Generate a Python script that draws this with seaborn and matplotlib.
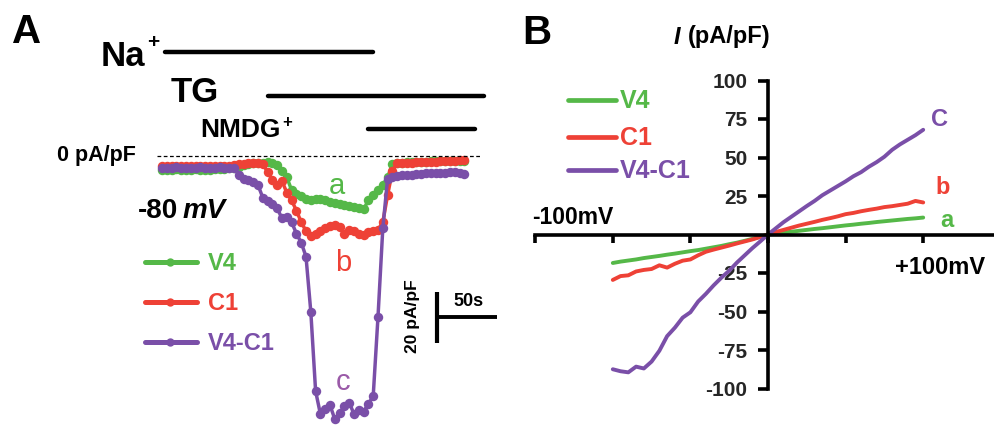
import numpy as np
import pandas as pd
import matplotlib
matplotlib.use("Agg")
import matplotlib.pyplot as plt
from matplotlib.lines import Line2D
import seaborn as sns

sns.set_theme(style="white")
plt.rcParams['font.family'] = ['Liberation Sans', 'DejaVu Sans']

# ---------------- data: panel A (time course at -80 mV) ----------------
time_s = list(range(0, 256, 4))  # seconds
v4_time = [-5.5, -5.6, -5.5, -5.4, -5.6, -5.5, -5.5, -5.4, -5.5, -5.6, -5.5, -5.4, -5.3, -5.2, -5.0,
           -4.8, -4.5, -3.8, -3.2, -3.0, -2.9, -2.8, -2.7, -3.0, -3.6,
           -6.0, -8.5, -13.5, -15.0, -16.0, -17.0, -17.5,
           -17.0, -16.8, -17.5, -18.0, -18.5, -19.0, -19.2, -19.6, -20.2, -20.5, -21.0,
           -17.5, -15.5, -13.5, -11.5, -8.5, -3.5,
           -2.8, -2.8, -2.6, -2.7, -2.5, -2.4, -2.4, -2.3, -2.3, -2.2, -2.2, -2.1, -2.1, -2.0, -2.0]
c1_time = [-4.0, -4.1, -4.0, -4.2, -4.1, -4.0, -4.1, -4.2, -4.0, -4.1, -4.0, -4.1, -4.2, -4.0, -4.0, -3.8,
           -3.5, -3.3, -3.0, -2.8, -3.0, -3.2, -6.5, -9.5, -11.5, -10.0,
           -14.5, -17.5, -21.5, -26.0, -29.5, -31.5, -30.5, -29.5, -28.5, -27.5,
           -27.0, -28.0, -30.5, -29.0, -29.5, -30.5, -31.0, -30.0, -29.5, -29.0,
           -26.0, -15.5, -6.0, -3.0, -2.9, -2.8, -2.9, -2.7, -2.6, -2.5,
           -2.6, -2.4, -2.3, -2.2, -2.1, -2.0, -1.9, -1.9]
v4c1_time = [-4.7, -4.8, -4.7, -4.6, -4.7, -4.8, -4.7, -4.7, -4.6, -4.7, -4.8, -4.7, -4.6, -4.7, -4.8,
             -5.0, -7.5, -9.0, -9.6, -10.2, -11.5, -16.5, -17.8, -19.0, -20.7,
             -24.5, -24.0, -26.0, -30.5, -34.0, -39.5, -61.0, -92.0, -101.0, -99.0,
             -97.5, -103.0, -100.5, -98.0, -96.5, -101.0, -99.5, -100.0, -97.0, -94.0,
             -63.0, -28.5, -9.0, -8.3, -8.0, -7.8, -7.6, -7.5, -7.3, -7.2,
             -7.0, -7.0, -6.8, -6.8, -6.7, -6.6, -6.6, -6.7, -7.2]

# solution application periods (s)
na_period = [2.5, 175.8]
tg_period = [88.3, 268.3]
nmdg_period = [171.7, 260.8]

# ---------------- data: panel B (I-V ramps) ----------------
voltage_mv = list(range(-100, 101, 5))
v4_iv = [-18.5, -17.6, -16.9, -16.2, -15.3, -14.6, -13.9, -13.1, -12.4, -11.6, -10.8, -10.1, -9.2, -8.3,
         -7.4, -6.3, -5.3, -4.1, -2.8, -1.5, 0.0, 0.6, 1.2, 1.8, 2.4, 3.0, 3.6, 4.1, 4.7, 5.3, 5.9,
         6.4, 7.0, 7.5, 8.1, 8.6, 9.1, 9.6, 10.1, 10.5, 11.0]
c1_iv = [-29.5, -27.0, -26.5, -24.0, -23.0, -22.4, -20.0, -21.5, -19.0, -17.0, -16.2, -13.5, -11.2, -9.8,
         -8.5, -7.2, -5.8, -4.5, -3.2, -1.6, 0.0, 1.6, 3.0, 4.4, 5.8, 7.0, 8.2, 9.5, 10.6, 11.8, 13.2,
         14.0, 15.1, 16.0, 16.8, 17.8, 18.4, 19.2, 20.0, 21.8, 20.8]
v4c1_iv = [-87.5, -88.8, -89.5, -85.8, -87.0, -82.5, -75.5, -66.0, -60.5, -54.0, -50.5, -43.5, -38.5, -33.0,
           -28.0, -23.5, -18.2, -13.5, -8.8, -4.5, 0.0, 4.0, 8.0, 11.5, 15.0, 18.5, 21.8, 25.5, 28.5, 31.5,
           34.5, 37.8, 40.5, 44.0, 47.0, 50.5, 55.0, 58.5, 61.5, 64.5, 68.0]
iv_yticks = [-100, -75, -50, -25, 25, 50, 75, 100]

labels = ["V4", "C1", "V4-C1"]
colors = {"V4": "#55b848", "C1": "#ee4136", "V4-C1": "#7a4fa8"}

W, H = 994, 425
fig = plt.figure(figsize=(W / 100, H / 100), dpi=100)
fig.patch.set_facecolor("white")


def P(x, y):
    return (x / W, 1 - y / H)


def ftext(x, y, s, size, color="black", weight="bold", style="normal", ha="center", va="center", rot=0):
    fx, fy = P(x, y)
    fig.text(fx, fy, s, fontsize=size, color=color, fontweight=weight, fontstyle=style,
             ha=ha, va=va, rotation=rot)


# ================= Panel A =================
axA = fig.add_axes([140 / W, 0, 360 / W, 1])
axA.set_xlim((140 - 162) / 1.2, (500 - 162) / 1.2)
axA.set_ylim(-(425 - 155.5) / 2.56, 155.5 / 2.56)
axA.axis("off")

dfA = pd.DataFrame({"t": time_s * 3,
                    "I": v4_time + c1_time + v4c1_time,
                    "cell": ["V4"] * len(time_s) + ["C1"] * len(time_s) + ["V4-C1"] * len(time_s)})
for lab in labels:
    sub = dfA[dfA.cell == lab]
    n0 = len(axA.lines)
    sns.lineplot(data=sub, x="t", y="I", ax=axA, color=colors[lab], linewidth=2.5,
                 marker="o", legend=False)
    for ln in axA.lines[n0:]:
        ln.set_markersize(6.8)
        ln.set_markeredgewidth(0)
        ln.set_markerfacecolor(colors[lab])
axA.set_xlabel("")
axA.set_ylabel("")

# zero line
axA.plot([-4.2, 266.7], [0, 0], ls=(0, (3, 2)), color="black", lw=0.9)
# solution bars
axA.plot(na_period, [40.4, 40.4], color="black", lw=3.2, solid_capstyle="round")
axA.plot(tg_period, [23.2, 23.2], color="black", lw=3.2, solid_capstyle="round")
axA.plot(nmdg_period, [10.4, 10.4], color="black", lw=3.2, solid_capstyle="round")
# scale bar (20 pA/pF, 50 s)
axA.plot([229.2, 229.2], [-53.2, -73.2], color="black", lw=3.0, solid_capstyle="butt")
axA.plot([229.2, 279.2], [-63.0, -63.0], color="black", lw=2.8, solid_capstyle="butt")

ftext(27, 32, "A", 29)
ftext(123, 56, "Na", 25)
ftext(153, 43, "+", 15)
ftext(195, 93, "TG", 25)
ftext(240, 130, "NMDG", 19)
ftext(287, 123, "+", 12)
ftext(96, 156, "0 pA/pF", 15.5)
ftext(178, 211, "-80", 20, ha="right")
ftext(183, 211, "mV", 20, style="italic", ha="left")
ftext(412, 316, "20 pA/pF", 12.5, rot=90)
ftext(469, 301, "50s", 13)
ftext(337, 186, "a", 21, color=colors["V4"], weight="normal")
ftext(343, 263, "b", 21, color=colors["C1"], weight="normal")
ftext(343, 382, "c", 21, color="#9a5aa8", weight="normal")

for lab, y in zip(labels, [262, 302, 342]):
    x0, y0 = P(145, y)
    xm, _ = P(170, y)
    x1, _ = P(197, y)
    fig.add_artist(Line2D([x0, x1], [y0, y0], transform=fig.transFigure,
                          color=colors[lab], lw=3.6))
    fig.add_artist(Line2D([xm], [y0], transform=fig.transFigure,
                          color=colors[lab], marker="o", markersize=6, markeredgewidth=0, lw=0))
    ftext(208, y + 1, lab, 17, color=colors[lab], ha="left")

# ================= Panel B =================
axB = fig.add_axes([530 / W, 1 - 400 / H, 464 / W, 340 / H])
axB.set_xlim((530 - 768) / 1.552, (994 - 768) / 1.552)
axB.set_ylim((234.5 - 400) / 1.54, (234.5 - 60) / 1.54)
axB.set_facecolor("none")

dfB = pd.DataFrame({"V": voltage_mv * 3,
                    "I": v4_iv + c1_iv + v4c1_iv,
                    "cell": ["V4"] * len(voltage_mv) + ["C1"] * len(voltage_mv) + ["V4-C1"] * len(voltage_mv)})
for lab in labels:
    sub = dfB[dfB.cell == lab]
    sns.lineplot(data=sub, x="V", y="I", ax=axB, color=colors[lab], linewidth=2.8, legend=False)
axB.set_xlabel("")
axB.set_ylabel("")

for s in ["top", "right"]:
    axB.spines[s].set_visible(False)
axB.spines["left"].set_position(("data", 0))
axB.spines["bottom"].set_position(("data", 0))
axB.spines["left"].set_bounds(-100, 100)
axB.spines["bottom"].set_bounds(-150, (994 - 768) / 1.552)
for s in ["left", "bottom"]:
    axB.spines[s].set_color("black")
    axB.spines[s].set_linewidth(2.6)
axB.set_xticks([-150, -100, -50, 0, 50, 100])
axB.set_xticklabels([])
axB.set_yticks(iv_yticks)
axB.set_yticklabels([str(v) for v in iv_yticks], fontsize=15, fontweight="bold")
axB.tick_params(axis="x", direction="out", length=6, width=2.6, color="black", bottom=True)
axB.tick_params(axis="y", direction="out", length=7, width=2.6, color="black", pad=8, left=True)

ftext(537, 33, "B", 29)
ftext(677, 37, "I", 17, style="italic", ha="center")
ftext(688, 37, "(pA/pF)", 17, ha="left")
ftext(613, 217, "-100mV", 16.5, ha="right")
ftext(940, 268, "+100mV", 17)
ftext(940, 120, "C", 17, color=colors["V4-C1"])
ftext(943, 188, "b", 17, color=colors["C1"])
ftext(947, 220, "a", 17, color=colors["V4"])

for lab, y in zip(labels, [100, 137, 170]):
    x0, y0 = P(568, y)
    x1, _ = P(616, y)
    fig.add_artist(Line2D([x0, x1], [y0, y0], transform=fig.transFigure,
                          color=colors[lab], lw=3.4))
    ftext(620, y + 1, lab, 18, color=colors[lab], ha="left")

fig.savefig("out.png", dpi=100, facecolor="white")
